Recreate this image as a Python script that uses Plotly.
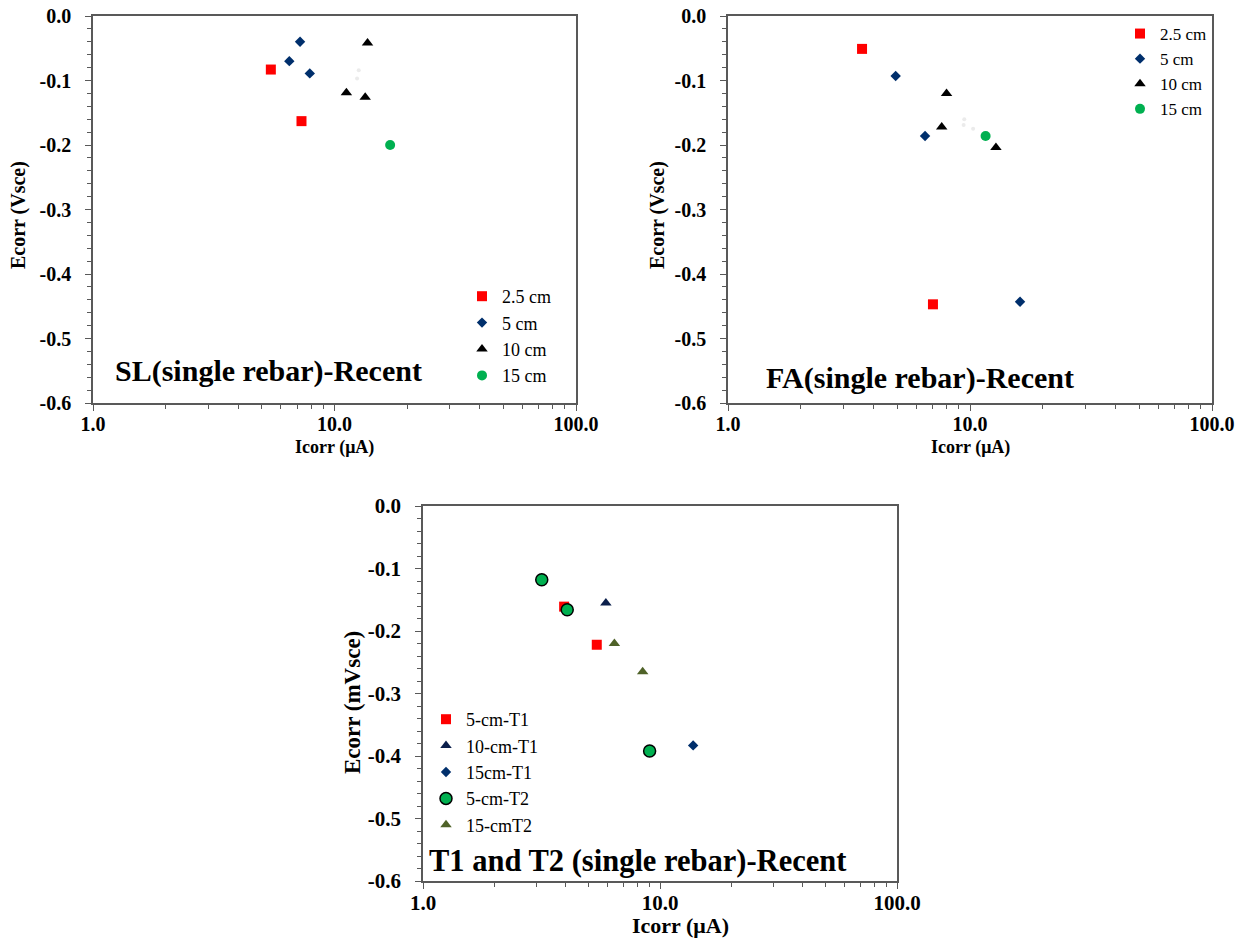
import plotly.graph_objects as go

# ---- SL (single rebar) : Icorr (uA) / Ecorr (Vsce) ----
sl_25_icorr = [5.45, 7.30]
sl_25_ecorr = [-0.083, -0.163]
sl_5_icorr = [7.20, 6.50, 7.90]
sl_5_ecorr = [-0.040, -0.070, -0.089]
sl_10_icorr = [13.7, 11.2, 13.4]
sl_10_ecorr = [-0.042, -0.119, -0.126]
sl_15_icorr = [17.0]
sl_15_ecorr = [-0.200]
sl_faint_icorr = [12.6, 12.4]
sl_faint_ecorr = [-0.084, -0.097]

# ---- FA (single rebar) ----
fa_25_icorr = [3.58, 7.03]
fa_25_ecorr = [-0.051, -0.447]
fa_5_icorr = [4.93, 6.52, 16.1]
fa_5_ecorr = [-0.093, -0.186, -0.443]
fa_10_icorr = [8.00, 7.64, 12.8]
fa_10_ecorr = [-0.120, -0.172, -0.204]
fa_15_icorr = [11.6]
fa_15_ecorr = [-0.186]
fa_faint_icorr = [9.47, 9.41, 10.3]
fa_faint_ecorr = [-0.160, -0.169, -0.175]

# ---- T1 and T2 (single rebar) ----
t_5t1_icorr = [3.94, 5.41]
t_5t1_ecorr = [-0.161, -0.222]
t_10t1_icorr = [5.91]
t_10t1_ecorr = [-0.155]
t_15t1_icorr = [13.8]
t_15t1_ecorr = [-0.383]
t_5t2_icorr = [3.17, 4.06, 9.04]
t_5t2_ecorr = [-0.118, -0.166, -0.392]
t_15t2_icorr = [6.42, 8.45]
t_15t2_ecorr = [-0.220, -0.265]

# ---- axis ticks ----
x_tick_vals = [1, 10, 100]
x_tick_text = ["1.0", "10.0", "100.0"]
x_minor_vals = [2, 3, 4, 5, 6, 7, 8, 9, 20, 30, 40, 50, 60, 70, 80, 90]
y_tick_vals = [0.0, -0.1, -0.2, -0.3, -0.4, -0.5, -0.6]
y_tick_text = ["0.0", "-0.1", "-0.2", "-0.3", "-0.4", "-0.5", "-0.6"]

W, H = 1244, 939
SERIF = "Liberation Serif"
AXIS_GREY = "#595959"

RED = "#FF0000"
NAVY = "#002F6C"
BLACK = "#000000"
GREEN = "#00B050"
DARK_NAVY = "#0B1F4B"
OLIVE = "#4F6228"
FAINT = "#EBEBEB"


def px_x(p):
    return p / W


def px_y(p):
    return 1 - p / H


def x_axis(domain, anchor, size, standoff):
    return dict(
        type="log", range=[0, 2], domain=domain, anchor=anchor, automargin=False,
        tickmode="array", tickvals=x_tick_vals, ticktext=x_tick_text,
        ticks="outside", ticklen=6, tickwidth=1.2, tickcolor=AXIS_GREY,
        showline=True, linecolor=AXIS_GREY, linewidth=1.5, mirror=True,
        showgrid=False, zeroline=False, ticklabelstandoff=standoff,
        tickfont=dict(family=SERIF, size=size, color="black", weight="bold"),
        minor=dict(tickmode="array", tickvals=x_minor_vals, ticks="outside",
                   ticklen=4, tickwidth=1.2, tickcolor=AXIS_GREY, showgrid=False),
    )


def y_axis(domain, anchor, size):
    return dict(
        range=[-0.6, 0.0], domain=domain, anchor=anchor, automargin=False,
        tickmode="array", tickvals=y_tick_vals, ticktext=y_tick_text,
        ticks="outside", ticklen=6, tickwidth=1.2, tickcolor=AXIS_GREY,
        showline=True, linecolor=AXIS_GREY, linewidth=1.5, mirror=True,
        showgrid=False, zeroline=False, ticklabelstandoff=10,
        tickfont=dict(family=SERIF, size=size, color="black", weight="bold"),
        minor=dict(dtick=0.02, tick0=0, ticks="outside", ticklen=4,
                   tickwidth=1.2, tickcolor=AXIS_GREY, showgrid=False),
    )


fig = go.Figure()


def add(xs, ys, name, symbol, color, size, xa, ya, legend, line=None, showlegend=True):
    fig.add_trace(go.Scatter(
        x=xs, y=ys, name=name, mode="markers",
        marker=dict(symbol=symbol, color=color, size=size,
                    line=line or dict(width=0)),
        xaxis=xa, yaxis=ya, legend=legend, showlegend=showlegend,
        hoverinfo="x+y+name",
    ))


# SL panel
add(sl_faint_icorr, sl_faint_ecorr, "faint", "circle", FAINT, 4, "x", "y", "legend", showlegend=False)
add(sl_25_icorr, sl_25_ecorr, "2.5 cm", "square", RED, 10, "x", "y", "legend")
add(sl_5_icorr, sl_5_ecorr, "5 cm", "diamond", NAVY, 8, "x", "y", "legend")
add(sl_10_icorr, sl_10_ecorr, "10 cm", "triangle-up", BLACK, 10, "x", "y", "legend")
add(sl_15_icorr, sl_15_ecorr, "15 cm", "circle", GREEN, 10, "x", "y", "legend")

# FA panel
add(fa_faint_icorr, fa_faint_ecorr, "faint", "circle", FAINT, 4, "x2", "y2", "legend2", showlegend=False)
add(fa_25_icorr, fa_25_ecorr, "2.5 cm", "square", RED, 10, "x2", "y2", "legend2")
add(fa_5_icorr, fa_5_ecorr, "5 cm", "diamond", NAVY, 8, "x2", "y2", "legend2")
add(fa_10_icorr, fa_10_ecorr, "10 cm", "triangle-up", BLACK, 10, "x2", "y2", "legend2")
add(fa_15_icorr, fa_15_ecorr, "15 cm", "circle", GREEN, 10, "x2", "y2", "legend2")

# T1 / T2 panel
add(t_5t1_icorr, t_5t1_ecorr, "5-cm-T1", "square", RED, 10, "x3", "y3", "legend3")
add(t_10t1_icorr, t_10t1_ecorr, "10-cm-T1", "triangle-up", DARK_NAVY, 10, "x3", "y3", "legend3")
add(t_15t1_icorr, t_15t1_ecorr, "15cm-T1", "diamond", NAVY, 8, "x3", "y3", "legend3")
add(t_5t2_icorr, t_5t2_ecorr, "5-cm-T2", "circle", GREEN, 12, "x3", "y3", "legend3",
    line=dict(color="black", width=1.5))
add(t_15t2_icorr, t_15t2_ecorr, "15-cmT2", "triangle-up", OLIVE, 10, "x3", "y3", "legend3")

top_y = [px_y(403), px_y(16)]
bot_y = [px_y(881), px_y(506)]

legend_common = dict(xanchor="left", yanchor="top", bgcolor="rgba(0,0,0,0)",
                     borderwidth=0, itemwidth=30, tracegroupgap=0)

annotations = []


def label(text, x, y, size, angle=0):
    annotations.append(dict(
        text=text, x=px_x(x), y=px_y(y), xref="paper", yref="paper",
        xanchor="center", yanchor="middle", showarrow=False, textangle=angle,
        font=dict(family=SERIF, size=size, color="black", weight="bold"),
    ))


# axis titles
label("Ecorr (Vsce)", 18, 215, 20, -90)
label("Icorr (\u03bcA)", 334, 447, 18)
label("Ecorr (Vsce)", 657, 215, 20, -90)
label("Icorr (\u03bcA)", 970, 447, 18)
label("Ecorr (mVsce)", 352, 703, 23, -90)
label("Icorr (\u03bcA)", 680, 925, 22)

# panel captions
label("SL(single rebar)-Recent", 268, 371, 30)
label("FA(single rebar)-Recent", 920, 378, 30)
label("T1 and T2 (single rebar)-Recent", 638, 861, 30.5)

fig.update_layout(
    template="none",
    width=W, height=H,
    margin=dict(l=0, r=0, t=0, b=0, autoexpand=False),
    paper_bgcolor="white", plot_bgcolor="white",
    xaxis=x_axis([px_x(93), px_x(576)], "y", 20, -4),
    yaxis=y_axis(top_y, "x", 20),
    xaxis2=x_axis([px_x(728), px_x(1212)], "y2", 20, -4),
    yaxis2=y_axis(top_y, "x2", 20),
    xaxis3=x_axis([px_x(423), px_x(897)], "y3", 21, -4),
    yaxis3=y_axis(bot_y, "x3", 21),
    legend=dict(x=px_x(462), y=px_y(278), font=dict(family=SERIF, size=18, color="black"), **legend_common),
    legend2=dict(x=px_x(1120), y=px_y(16), font=dict(family=SERIF, size=17, color="black"), **legend_common),
    legend3=dict(x=px_x(426), y=px_y(701), font=dict(family=SERIF, size=18, color="black"), **legend_common),
    annotations=annotations,
    showlegend=True,
)

fig.write_html("out.html")
